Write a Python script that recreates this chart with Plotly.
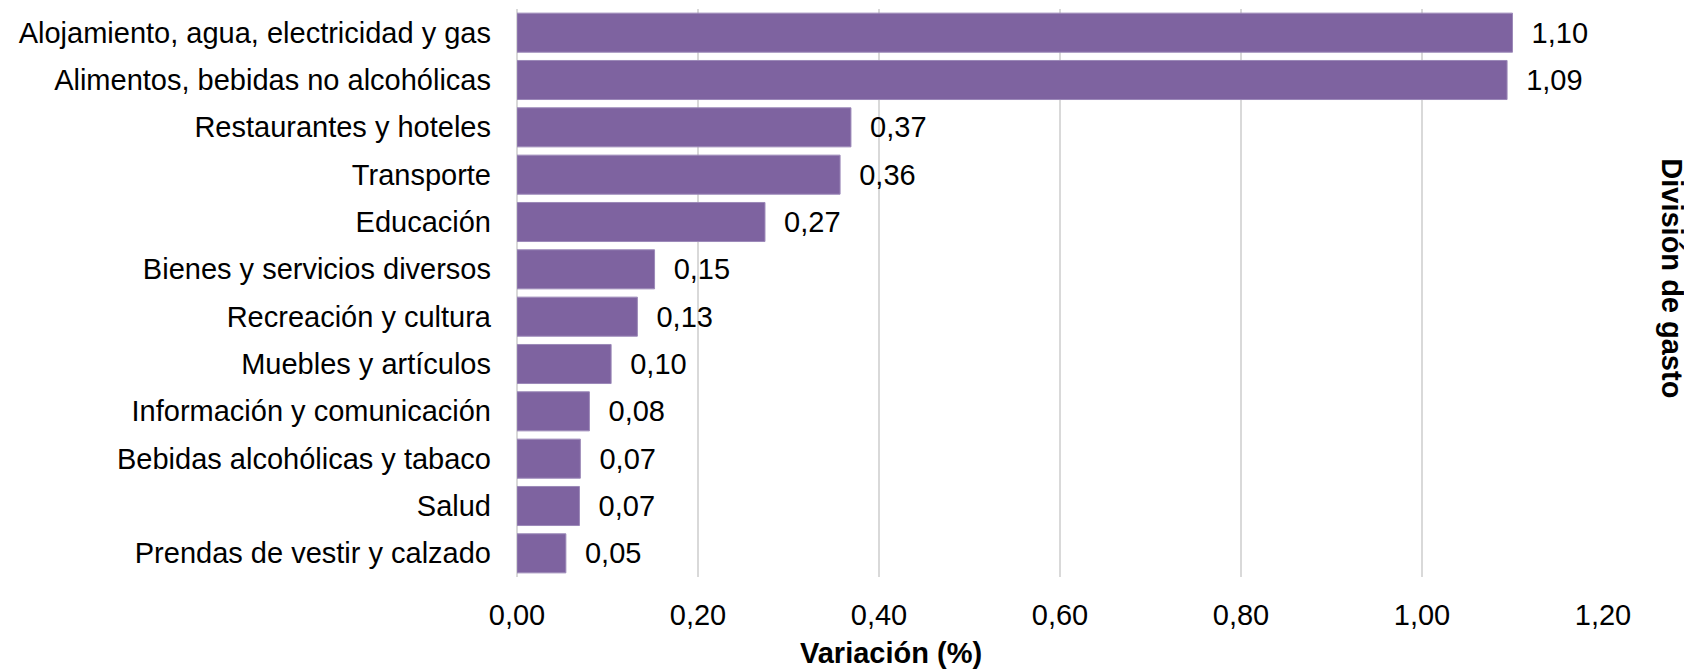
import plotly.graph_objects as go

categories = [
    "Alojamiento, agua, electricidad y gas",
    "Alimentos, bebidas no alcohólicas",
    "Restaurantes y hoteles",
    "Transporte",
    "Educación",
    "Bienes y servicios diversos",
    "Recreación y cultura",
    "Muebles y artículos",
    "Información y comunicación",
    "Bebidas alcohólicas y tabaco",
    "Salud",
    "Prendas de vestir y calzado",
]
values = [1.100, 1.094, 0.369, 0.357, 0.274, 0.152, 0.133, 0.104, 0.080, 0.070, 0.069, 0.054]
x_ticks = [0.0, 0.2, 0.4, 0.6, 0.8, 1.0, 1.2]

FONT = "Liberation Sans, Arial, sans-serif"
FS = 29
BAR = "#7E63A0"
GRID = "#D9D9D9"

labels = ["\u00a0\u00a0" + f"{v:.2f}".replace(".", ",") for v in values]

fig = go.Figure(
    go.Bar(
        x=values,
        y=categories,
        orientation="h",
        marker=dict(color=BAR, line=dict(color="#9C89B8", width=1)),
        text=labels,
        textposition="outside",
        textfont=dict(family=FONT, size=FS, color="#000000"),
        cliponaxis=False,
        hoverinfo="skip",
    )
)

# page body has an 8px default margin, so the figure is sized to fit the window
fig.update_layout(
    width=1684,
    height=663,
    margin=dict(l=509, r=89, t=1, b=94, pad=0),
    paper_bgcolor="white",
    plot_bgcolor="white",
    separators=",.",
    bargap=0.175,
    showlegend=False,
    font=dict(family=FONT, size=FS, color="#000000"),
    xaxis=dict(
        range=[0, 1.2],
        tickvals=x_ticks,
        tickformat=".2f",
        showgrid=True,
        gridcolor=GRID,
        gridwidth=1.5,
        zeroline=True,
        zerolinecolor=GRID,
        zerolinewidth=1.5,
        showline=False,
        ticks="",
        ticklabelstandoff=18,
        tickfont=dict(family=FONT, size=FS, color="#000000"),
    ),
    yaxis=dict(
        autorange="reversed",
        showgrid=False,
        zeroline=False,
        showline=False,
        ticks="",
        ticklabelstandoff=25,
        tickfont=dict(family=FONT, size=FS, color="#000000"),
    ),
    annotations=[
        dict(
            text="<b>Variación (%)</b>",
            xref="paper", yref="paper",
            x=0.344, y=0, yshift=-94,
            xanchor="center", yanchor="bottom",
            showarrow=False,
            font=dict(family=FONT, size=FS, color="#000000"),
        ),
        dict(
            text="<b>División de gasto</b>",
            xref="paper", yref="paper",
            x=1.0635, y=0.526,
            xanchor="center", yanchor="middle",
            textangle=90,
            showarrow=False,
            font=dict(family=FONT, size=FS, color="#000000"),
        ),
    ],
)

fig.write_html("out.html")
